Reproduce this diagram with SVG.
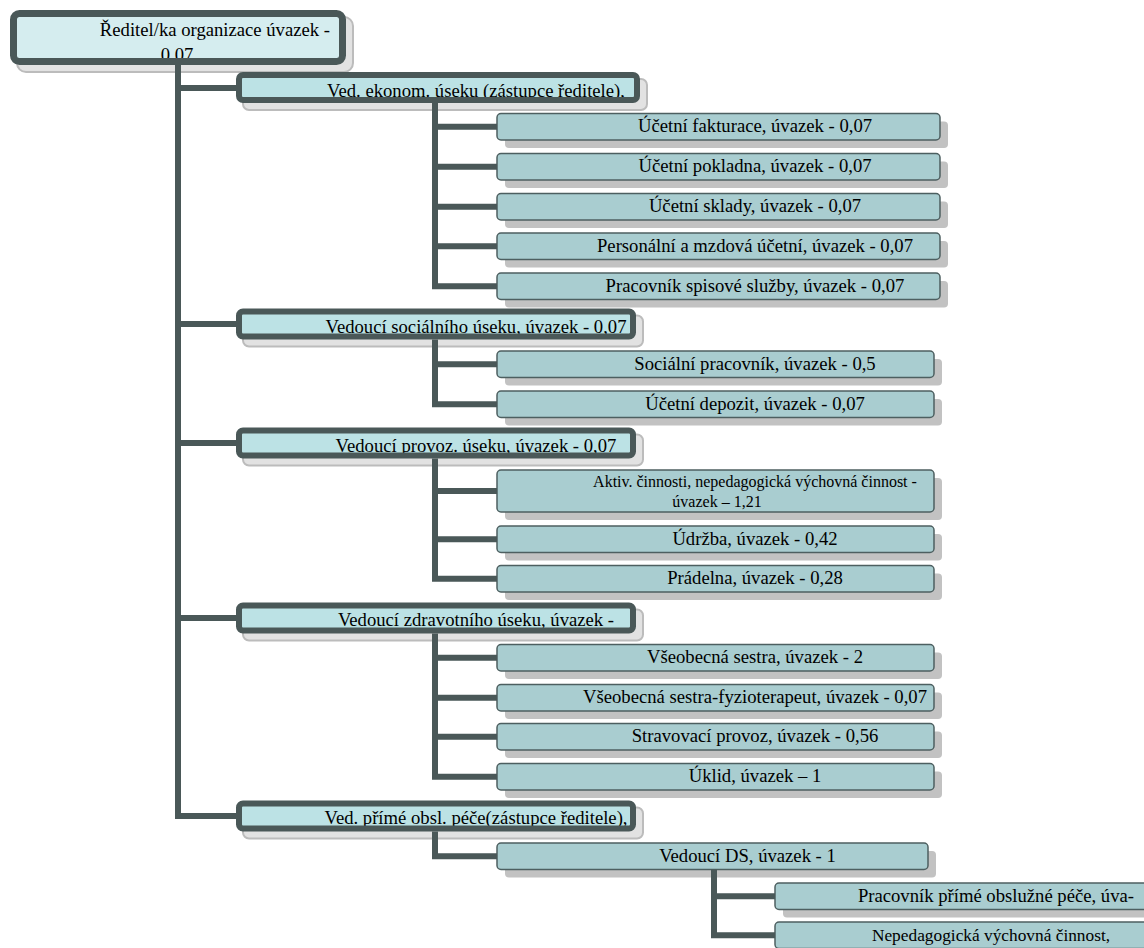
<svg xmlns="http://www.w3.org/2000/svg" width="1144" height="948" viewBox="0 0 1144 948">
<style>
text{font-family:'Liberation Serif','DejaVu Serif',serif;fill:#000}
.f14{font-size:18.67px}
.f12{font-size:16px}
.f13{font-size:17.33px}
.m{text-anchor:middle}
.e{text-anchor:end}
.sh2{fill:#c2c2c2}
.sh1{fill:#e2e2e2;stroke:#bcbcbc;stroke-width:2}
.b2{fill:#a9cdd0;stroke:#4d5f60;stroke-width:1.5}
.f1{fill:#bce2e5}
.f0{fill:#d5edef}
.bd{fill:none;stroke:#4a5858;stroke-width:6}
.c{fill:none;stroke:#4a5858;stroke-width:6;stroke-linejoin:miter;stroke-linecap:butt}
</style>
<rect width="1144" height="948" fill="#ffffff"/>
<g id="nodes" font-family="'Liberation Serif', serif">
<g id="n-reditel">
<rect class="sh1" x="17" y="17" width="336" height="55" rx="9"/>
<rect class="f0" x="13.5" y="13.5" width="329" height="48" rx="6"/>
<text class="t f14 e" x="330" y="36">Ředitel/ka organizace úvazek -</text>
<text class="t f14 m" x="177" y="61">0,07</text>
<rect class="bd" x="13.5" y="13.5" width="329" height="48" rx="6" style="stroke-width:7"/>
</g>
<g id="n-ekonom">
<rect class="sh1" x="243" y="79" width="404" height="31" rx="6"/>
<rect class="f1" x="239" y="75" width="398" height="25" rx="4"/>
<text class="t f14 m" x="476" y="96.5">Ved. ekonom. úseku (zástupce ředitele),</text>
<rect class="bd" x="239" y="75" width="398" height="25" rx="4"/>
</g>
<g id="n-fakturace">
<rect class="sh2" x="505" y="121.5" width="443" height="26.5" rx="4"/>
<rect class="b2" x="497" y="113.5" width="443" height="26.5" rx="4"/>
<text class="t f14 m" x="755" y="132">Účetní fakturace, úvazek - 0,07</text>
</g>
<g id="n-pokladna">
<rect class="sh2" x="505" y="161.5" width="443" height="26.5" rx="4"/>
<rect class="b2" x="497" y="153.5" width="443" height="26.5" rx="4"/>
<text class="t f14 m" x="755" y="172">Účetní pokladna, úvazek - 0,07</text>
</g>
<g id="n-sklady">
<rect class="sh2" x="505" y="201.5" width="443" height="26.5" rx="4"/>
<rect class="b2" x="497" y="193.5" width="443" height="26.5" rx="4"/>
<text class="t f14 m" x="755" y="212">Účetní sklady, úvazek - 0,07</text>
</g>
<g id="n-personalni">
<rect class="sh2" x="505" y="241" width="443" height="26.5" rx="4"/>
<rect class="b2" x="497" y="233" width="443" height="26.5" rx="4"/>
<text class="t f14 m" x="755" y="251.5">Personální a mzdová účetní, úvazek - 0,07</text>
</g>
<g id="n-spisova">
<rect class="sh2" x="505" y="281" width="443" height="26.5" rx="4"/>
<rect class="b2" x="497" y="273" width="443" height="26.5" rx="4"/>
<text class="t f14 m" x="755" y="291.5">Pracovník spisové služby, úvazek - 0,07</text>
</g>
<g id="n-socialni">
<rect class="sh1" x="243" y="315.5" width="400" height="31" rx="6"/>
<rect class="f1" x="239" y="311.5" width="394" height="25" rx="4"/>
<text class="t f14 m" x="476" y="333">Vedoucí sociálního úseku, úvazek - 0,07</text>
<rect class="bd" x="239" y="311.5" width="394" height="25" rx="4"/>
</g>
<g id="n-socpracovnik">
<rect class="sh2" x="505" y="359" width="437" height="26.5" rx="4"/>
<rect class="b2" x="497" y="351" width="437" height="26.5" rx="4"/>
<text class="t f14 m" x="755" y="369.5">Sociální pracovník, úvazek - 0,5</text>
</g>
<g id="n-depozit">
<rect class="sh2" x="505" y="399" width="437" height="26.5" rx="4"/>
<rect class="b2" x="497" y="391" width="437" height="26.5" rx="4"/>
<text class="t f14 m" x="755" y="409.5">Účetní depozit, úvazek - 0,07</text>
</g>
<g id="n-provoz">
<rect class="sh1" x="243" y="434.5" width="400" height="31" rx="6"/>
<rect class="f1" x="239" y="430.5" width="394" height="25" rx="4"/>
<text class="t f14 m" x="476" y="451.5">Vedoucí provoz. úseku, úvazek - 0,07</text>
<rect class="bd" x="239" y="430.5" width="394" height="25" rx="4"/>
</g>
<g id="n-aktiv">
<rect class="sh2" x="505" y="478" width="437" height="42" rx="4"/>
<rect class="b2" x="497" y="470" width="437" height="42" rx="4"/>
<text class="t f12 m" x="755" y="486.5">Aktiv. činnosti, nepedagogická výchovná činnost -</text>
<text class="t f12 m" x="717" y="507">úvazek – 1,21</text>
</g>
<g id="n-udrzba">
<rect class="sh2" x="505" y="534" width="437" height="26.5" rx="4"/>
<rect class="b2" x="497" y="526" width="437" height="26.5" rx="4"/>
<text class="t f14 m" x="755" y="544.5">Údržba, úvazek - 0,42</text>
</g>
<g id="n-pradelna">
<rect class="sh2" x="505" y="573.5" width="437" height="26.5" rx="4"/>
<rect class="b2" x="497" y="565.5" width="437" height="26.5" rx="4"/>
<text class="t f14 m" x="755" y="584">Prádelna, úvazek - 0,28</text>
</g>
<g id="n-zdravotni">
<rect class="sh1" x="243" y="609.5" width="400" height="31" rx="6"/>
<rect class="f1" x="239" y="605.5" width="394" height="25" rx="4"/>
<text class="t f14 m" x="476" y="625.5">Vedoucí zdravotního úseku, úvazek -</text>
<rect class="bd" x="239" y="605.5" width="394" height="25" rx="4"/>
</g>
<g id="n-sestra">
<rect class="sh2" x="505" y="652.5" width="437" height="26.5" rx="4"/>
<rect class="b2" x="497" y="644.5" width="437" height="26.5" rx="4"/>
<text class="t f14 m" x="755" y="663">Všeobecná sestra, úvazek - 2</text>
</g>
<g id="n-fyzio">
<rect class="sh2" x="505" y="692.5" width="437" height="26.5" rx="4"/>
<rect class="b2" x="497" y="684.5" width="437" height="26.5" rx="4"/>
<text class="t f14 m" x="755" y="703">Všeobecná sestra-fyzioterapeut, úvazek - 0,07</text>
</g>
<g id="n-stravovaci">
<rect class="sh2" x="505" y="731.5" width="437" height="26.5" rx="4"/>
<rect class="b2" x="497" y="723.5" width="437" height="26.5" rx="4"/>
<text class="t f14 m" x="755" y="742">Stravovací provoz, úvazek - 0,56</text>
</g>
<g id="n-uklid">
<rect class="sh2" x="505" y="771.5" width="437" height="26.5" rx="4"/>
<rect class="b2" x="497" y="763.5" width="437" height="26.5" rx="4"/>
<text class="t f14 m" x="755" y="782">Úklid, úvazek – 1</text>
</g>
<g id="n-prima">
<rect class="sh1" x="243" y="807.5" width="400" height="31" rx="6"/>
<rect class="f1" x="239" y="803.5" width="394" height="25" rx="4"/>
<text class="t f14 m" x="476" y="823.5">Ved. přímé obsl. péče(zástupce ředitele),</text>
<rect class="bd" x="239" y="803.5" width="394" height="25" rx="4"/>
</g>
<g id="n-ds">
<rect class="sh2" x="505" y="851" width="431" height="26.5" rx="4"/>
<rect class="b2" x="497" y="843" width="431" height="26.5" rx="4"/>
<text class="t f14 m" x="747.5" y="861.5">Vedoucí DS, úvazek - 1</text>
</g>
<g id="n-ppop">
<rect class="sh2" x="783" y="891" width="400" height="26.5" rx="4"/>
<rect class="b2" x="775" y="883" width="400" height="26.5" rx="4"/>
<text class="t f14 e" x="1134" y="901.5">Pracovník přímé obslužné péče, úva-</text>
</g>
<g id="n-nepedag">
<rect class="sh2" x="783" y="930" width="400" height="26.5" rx="4"/>
<rect class="b2" x="775" y="922" width="400" height="26.5" rx="4"/>
<text class="t f13 m" x="991" y="940.5">Nepedagogická výchovná činnost,</text>
</g>
</g>
<g id="connectors">
<path class="c" d="M178 65 V816 H236 M178 88 H236 M178 324 H236 M178 443 H236 M178 618 H236"/>
<path class="c" d="M435 103 V286.25 H497 M435 126.75 H497 M435 166.75 H497 M435 206.75 H497 M435 246.25 H497"/>
<path class="c" d="M435 339.5 V404.25 H497 M435 364.25 H497"/>
<path class="c" d="M435 458.5 V578.75 H497 M435 491 H497 M435 539.25 H497"/>
<path class="c" d="M435 633.5 V776.75 H497 M435 657.75 H497 M435 697.75 H497 M435 736.75 H497"/>
<path class="c" d="M435 831.5 V856.25 H497"/>
<path class="c" d="M714 869.5 V935.25 H775 M714 896.25 H775"/>
</g>
</svg>
